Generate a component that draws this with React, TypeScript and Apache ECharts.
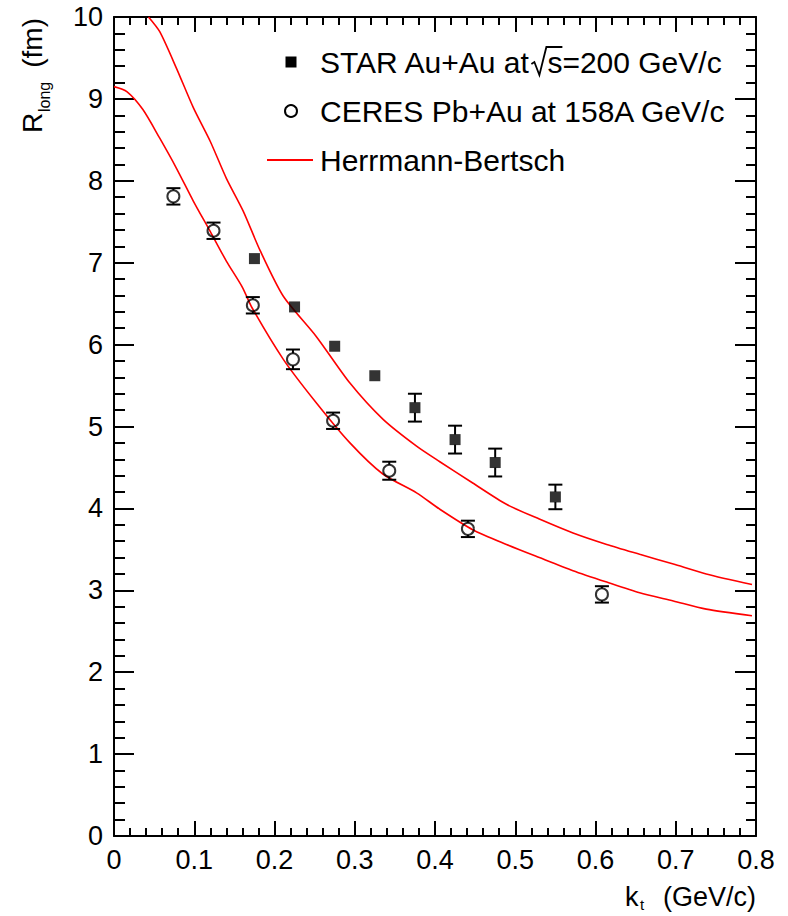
import React, { useEffect, useRef } from "react";
import * as echarts from "echarts";

// STAR Au+Au at sqrt(s)=200 GeV/c
const starKt = [0.175, 0.225, 0.275, 0.325, 0.375, 0.425, 0.475, 0.55];
const starR = [7.05, 6.46, 5.98, 5.62, 5.23, 4.84, 4.56, 4.14];
const starErr = [0.05, 0.05, 0.05, 0.05, 0.17, 0.17, 0.17, 0.15];

// CERES Pb+Au at 158A GeV/c
const ceresKt = [0.074, 0.124, 0.173, 0.223, 0.273, 0.343, 0.441, 0.608];
const ceresR = [7.81, 7.39, 6.48, 5.82, 5.07, 4.46, 3.75, 2.95];
const ceresErr = [0.1, 0.1, 0.1, 0.12, 0.1, 0.11, 0.1, 0.1];

// Herrmann-Bertsch curves
const hbUpperKt = [0.043, 0.057, 0.078, 0.099, 0.12, 0.14, 0.161, 0.182, 0.211, 0.252, 0.294, 0.335, 0.377, 0.406, 0.447, 0.489, 0.53, 0.572, 0.614, 0.655, 0.697, 0.738, 0.795];
const hbUpperR = [10.0, 9.82, 9.37, 8.89, 8.48, 8.03, 7.63, 7.15, 6.59, 6.1, 5.53, 5.09, 4.76, 4.57, 4.31, 4.05, 3.87, 3.7, 3.56, 3.44, 3.32, 3.2, 3.07];
const hbLowerKt = [0.0, 0.016, 0.036, 0.057, 0.078, 0.099, 0.12, 0.14, 0.16, 0.172, 0.211, 0.252, 0.294, 0.335, 0.377, 0.406, 0.447, 0.489, 0.53, 0.572, 0.614, 0.655, 0.697, 0.738, 0.795];
const hbLowerR = [9.15, 9.09, 8.87, 8.52, 8.15, 7.75, 7.38, 7.02, 6.7, 6.45, 5.82, 5.29, 4.8, 4.42, 4.19, 3.99, 3.74, 3.56, 3.4, 3.24, 3.1, 2.97, 2.87, 2.77, 2.69];

const xTicks = { min: 0, max: 0.8, interval: 0.1 };
const yTicks = { min: 0, max: 10, interval: 1 };

const FONT = '"Liberation Sans", Arial, Helvetica, sans-serif';

function measure(text: string, size: number): number {
  const ctx = document.createElement("canvas").getContext("2d");
  if (!ctx) return text.length * size * 0.55;
  ctx.font = `${size}px ${FONT}`;
  return ctx.measureText(text).width;
}

function errorBars(kt: number[], r: number[], err: number[], markerR: number) {
  return {
    type: "custom",
    z: 4,
    data: kt.map((k, i) => [k, r[i], err[i]]),
    renderItem: (_p: any, api: any) => {
      const x = api.value(0);
      const y = api.value(1);
      const e = api.value(2);
      const c = api.coord([x, y]);
      const top = api.coord([x, y + e]);
      const bot = api.coord([x, y - e]);
      const children: any[] = [];
      const style = { stroke: "#000", lineWidth: 2 };
      if (c[1] - top[1] > markerR) {
        children.push({ type: "line", shape: { x1: c[0], y1: c[1] - markerR, x2: c[0], y2: top[1] }, style });
        children.push({ type: "line", shape: { x1: c[0] - 7, y1: top[1], x2: c[0] + 7, y2: top[1] }, style });
      }
      if (bot[1] - c[1] > markerR) {
        children.push({ type: "line", shape: { x1: c[0], y1: c[1] + markerR, x2: c[0], y2: bot[1] }, style });
        children.push({ type: "line", shape: { x1: c[0] - 7, y1: bot[1], x2: c[0] + 7, y2: bot[1] }, style });
      }
      return { type: "group", children };
    },
  };
}

function mirrorAxis(position: string, t: any, major: number, minor: number) {
  return {
    type: "value",
    position,
    min: t.min,
    max: t.max,
    interval: t.interval,
    axisLine: { show: true, onZero: false, lineStyle: { color: "#000", width: 2 } },
    axisTick: { show: true, inside: true, length: major, lineStyle: { color: "#000", width: 2 } },
    minorTick: { show: true, splitNumber: 5, length: minor, lineStyle: { color: "#000", width: 2 } },
    axisLabel: { show: false },
    splitLine: { show: false },
  };
}

export default function App() {
  const ref = useRef<HTMLDivElement>(null);

  useEffect(() => {
    if (!ref.current) return;
    const chart = echarts.init(ref.current, undefined, { renderer: "svg" });

    const lf = 30;
    const legendX = 320;
    const w1 = measure("STAR Au+Au at", lf);
    const rx = legendX + w1 + 1;
    const wS = measure("s", lf);
    const font = (s: number) => `${s}px ${FONT}`;
    const txt = (text: string, x: number, y: number, size: number, align = "left") => ({
      type: "text",
      x,
      y,
      style: { text, font: font(size), fill: "#000", textAlign: align, textVerticalAlign: "middle", verticalAlign: "middle" },
    });

    const graphic: any[] = [
      // legend
      { type: "rect", shape: { x: 285.5, y: 56.5, width: 11, height: 11 }, style: { fill: "#000" } },
      { type: "circle", shape: { cx: 291, cy: 111, r: 6 }, style: { fill: "none", stroke: "#000", lineWidth: 2 } },
      { type: "line", shape: { x1: 267, y1: 160, x2: 313, y2: 160 }, style: { stroke: "#ff0000", lineWidth: 2 } },
      txt("STAR Au+Au at", legendX, 62, lf),
      {
        type: "polyline",
        shape: { points: [[rx, 64], [rx + 3, 62], [rx + 8, 75], [rx + 15, 47], [rx + 16 + wS, 47]] },
        style: { stroke: "#000", lineWidth: 1.8, fill: "none" },
      },
      txt("s=200 GeV/c", rx + 16, 62, lf),
      txt("CERES Pb+Au at 158A GeV/c", legendX, 111, lf),
      txt("Herrmann-Bertsch", legendX, 160, lf),
      // y-axis title, reading upward
      {
        type: "group",
        x: 32,
        y: 133,
        rotation: Math.PI / 2,
        children: [
          txt("R", 0, 0, 28),
          txt("long", 21, 12, 16),
          txt("(fm)", 115, 0, 28, "right"),
        ],
      },
      // x-axis title
      txt("(GeV/c)", 756, 897, 27, "right"),
      txt("t", 640, 904, 15),
      txt("k", 625, 897, 27),
    ];

    chart.setOption({
      animation: false,
      backgroundColor: "#fff",
      textStyle: { fontFamily: FONT },
      grid: { left: 114, right: 32, top: 17, bottom: 80, containLabel: false },
      xAxis: [
        {
          type: "value",
          position: "bottom",
          min: xTicks.min,
          max: xTicks.max,
          interval: xTicks.interval,
          axisLine: { show: true, onZero: false, lineStyle: { color: "#000", width: 2 } },
          axisTick: { show: true, inside: true, length: 15, lineStyle: { color: "#000", width: 2 } },
          minorTick: { show: true, splitNumber: 5, length: 8, lineStyle: { color: "#000", width: 2 } },
          axisLabel: {
            color: "#000",
            fontSize: 27,
            fontFamily: FONT,
            margin: 10,
            formatter: (v: number) => (Math.abs(v) < 1e-9 ? "0" : v.toFixed(1)),
          },
          splitLine: { show: false },
        },
        mirrorAxis("top", xTicks, 15, 8),
      ],
      yAxis: [
        {
          type: "value",
          position: "left",
          min: yTicks.min,
          max: yTicks.max,
          interval: yTicks.interval,
          axisLine: { show: true, onZero: false, lineStyle: { color: "#000", width: 2 } },
          axisTick: { show: true, inside: true, length: 20, lineStyle: { color: "#000", width: 2 } },
          minorTick: { show: true, splitNumber: 5, length: 11, lineStyle: { color: "#000", width: 2 } },
          axisLabel: { color: "#000", fontSize: 27, fontFamily: FONT, margin: 11 },
          splitLine: { show: false },
        },
        mirrorAxis("right", yTicks, 21, 10),
      ],
      graphic,
      series: [
        {
          type: "line",
          name: "Herrmann-Bertsch STAR",
          data: hbUpperKt.map((k, i) => [k, hbUpperR[i]]),
          symbol: "none",
          smooth: 0.25,
          lineStyle: { color: "#ff0000", width: 1.6 },
          z: 2,
        },
        {
          type: "line",
          name: "Herrmann-Bertsch CERES",
          data: hbLowerKt.map((k, i) => [k, hbLowerR[i]]),
          symbol: "none",
          smooth: 0.25,
          lineStyle: { color: "#ff0000", width: 1.6 },
          z: 2,
        },
        errorBars(starKt, starR, starErr, 5),
        errorBars(ceresKt, ceresR, ceresErr, 6),
        {
          type: "scatter",
          name: "STAR Au+Au",
          data: starKt.map((k, i) => [k, starR[i]]),
          symbol: "rect",
          symbolSize: 11,
          itemStyle: { color: "#000" },
          z: 5,
        },
        {
          type: "scatter",
          name: "CERES Pb+Au",
          data: ceresKt.map((k, i) => [k, ceresR[i]]),
          symbol: "circle",
          symbolSize: 12,
          itemStyle: { color: "rgba(0,0,0,0)", borderColor: "#000", borderWidth: 2 },
          z: 5,
        },
      ],
    });

    return () => chart.dispose();
  }, []);

  return (
    <div
      ref={ref}
      style={{ position: "fixed", left: 0, top: 0, width: 788, height: 916, background: "#fff" }}
    />
  );
}
